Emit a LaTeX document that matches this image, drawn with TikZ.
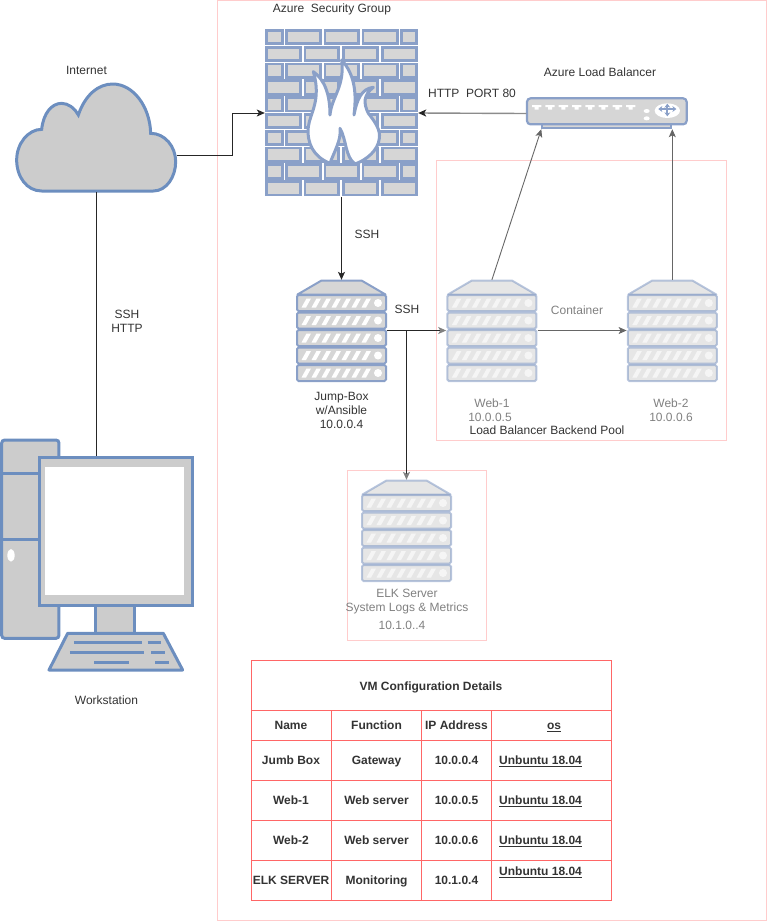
\documentclass[tikz,border=0pt]{standalone}
\usepackage{fontspec}
\setmainfont{Liberation Sans}
\usepackage{tikz}
\usetikzlibrary{positioning, arrows.meta}
\definecolor{pinkline}{HTML}{FFCCCC}
\definecolor{tableline}{HTML}{FF6666}
\definecolor{deepblue}{HTML}{6C8EBF}
\definecolor{softblue}{HTML}{8AA0C8}
\definecolor{bodygray}{HTML}{CCCCCC}
\definecolor{softgray}{HTML}{D6D6D6}
\definecolor{inktext}{HTML}{333333}

\begin{document}
\begin{tikzpicture}
        [
            x=1pt, y=-1pt,
            every node/.style={inner sep=0pt, font=\fontsize{12}{14}\selectfont, text=inktext},
            >={Stealth[length=8pt, width=7pt, inset=2pt]},
            faded/.style={text=gray},
            cell/.style={font=\fontsize{12}{14}\selectfont\bfseries, text height=9pt, text depth=0pt},
            group/.style={draw=pinkline, line width=1pt},
            link/.style={draw=black!85, line width=0.9pt},
            pale/.style={draw=black!60, line width=0.9pt},
            servernode/.style={minimum width=91pt, minimum height=101pt},
            rack/.pic={
                \draw [draw=softblue, fill=softgray, line width=2pt, line join=round]
                    (-44,-36) -- (-20,-50) -- (20,-50) -- (44,-36) -- cycle;
                \foreach \n in {0,...,4} {
                    \draw [draw=softblue, fill=softgray, line width=2pt, rounded corners=1.5pt]
                        (-44.5,-35.5+17.5*\n) rectangle (44.5,-19.5+17.5*\n);
                    \foreach \s in {0,...,6}
                        \fill [white] (-40+10*\s,-23+17.5*\n) -- (-35.5+10*\s,-23+17.5*\n)
                            -- (-30.5+10*\s,-32+17.5*\n) -- (-35+10*\s,-32+17.5*\n) -- cycle;
                    \fill [white] (36.5,-27.5+17.5*\n) circle [radius=4];
                }
            }
        ]
        \useasboundingbox (0,0) rectangle (767,922);

        \draw [group] (217,0.5) rectangle (766.5,920.5);
        \draw [group] (436,160.5) rectangle (726.5,440.5);
        \draw [group] (347,470.5) rectangle (486.5,640.5);

        % cloud
        \node (cloud) [minimum width=160pt, minimum height=108pt] at (96.5,138) {};
        \begin{scope}[shift={(0,60)}, scale=1/3]
            \draw [draw=deepblue, fill=bodygray, line width=3pt]
                (125,393) .. controls (80,393) and (50,350) .. (50,300)
                .. controls (50,250) and (85,208) .. (125,208)
                .. controls (130,160) and (155,130) .. (185,130)
                .. controls (205,130) and (225,145) .. (235,165)
                .. controls (255,105) and (295,72) .. (338,72)
                .. controls (400,72) and (450,140) .. (452,220)
                .. controls (495,220) and (527,260) .. (527,305)
                .. controls (527,350) and (500,393) .. (460,393) -- cycle;
        \end{scope}
        \node (internet) [above=9pt of cloud, xshift=-10pt] {Internet};

        % workstation
        \begin{scope}[shift={(0,430)}, scale=1/3]
            \draw [draw=deepblue, fill=bodygray, line width=3pt, rounded corners=3pt]
                (5,30) rectangle (177,625);
            \draw [deepblue, line width=3pt] (5,130) -- (118,130);
            \draw [deepblue, line width=3pt] (5,327) -- (118,327);
            \fill [white] (33,376) ellipse [x radius=11, y radius=19];
        \end{scope}
        \node (screen) [draw=deepblue, fill=bodygray, line width=3pt,
                        minimum width=153pt, minimum height=148pt] at (116.2,531) {};
        \begin{scope}[shift={(0,430)}, scale=1/3]
            \fill [white] (135,110) rectangle (552,495);
            \draw [draw=deepblue, fill=bodygray, line width=3pt] (288,525) rectangle (405,610);
            \draw [draw=deepblue, fill=bodygray, line width=3pt, line join=round]
                (203,610) -- (490,610) -- (548,720) -- (147,720) -- cycle;
            \foreach \a/\b/\h in {222/425/637, 443/483/637, 210/432/666, 454/495/666, 283/387/696, 466/507/696}
                \draw [deepblue, line width=3pt] (\a,\h) -- (\b,\h);
        \end{scope}
        \node (workstation) at (106.5,700) {Workstation};

        % firewall
        \node (wall) [minimum width=153pt, minimum height=168pt] at (341.5,113) {};
        \foreach \r in {0,2,...,8}
            \foreach \a/\b in {265/283.5, 285/322, 323.5/360, 361.5/399, 400/418}
                \draw [draw=softblue, fill=softgray, line width=2.8pt]
                    (\a+1.4,29+16.8*\r+1.4) rectangle (\b-1.4,29+16.8*\r+14.7);
        \foreach \r in {1,3,...,9}
            \foreach \a/\b in {265/302, 303.5/340, 342/379, 381/418}
                \draw [draw=softblue, fill=softgray, line width=2.8pt]
                    (\a+1.4,29+16.8*\r+1.4) rectangle (\b-1.4,29+16.8*\r+14.7);
        \begin{scope}[shift={(250,0)}, scale=1/3]
            \draw [draw=softblue, fill=white, line width=3pt, line join=round]
                (240,490) .. controls (190,470) and (170,430) .. (175,380)
                .. controls (180,340) and (215,300) .. (190,215)
                .. controls (225,240) and (240,285) .. (240,345)
                .. controls (245,290) and (285,260) .. (275,180)
                .. controls (315,225) and (320,280) .. (312,345)
                .. controls (320,300) and (335,265) .. (370,262)
                .. controls (340,285) and (340,310) .. (355,340)
                .. controls (375,365) and (392,390) .. (388,415)
                .. controls (385,450) and (350,480) .. (315,492)
                .. controls (285,470) and (290,420) .. (270,385)
                .. controls (275,420) and (250,460) .. (240,490) -- cycle;
        \end{scope}
        \node (secgroup) at (332,9) {Azure\ \ Security Group};

        % load balancer
        \node (lb) [minimum width=161pt, minimum height=31pt] at (607,113.5) {};
        \begin{scope}[shift={(515,85)}, scale=1/3]
            \draw [draw=softblue, fill=softgray, line width=2pt] (82,118) rectangle (468,128);
            \draw [draw=softblue, fill=softgray, line width=2.2pt, rounded corners=3.5pt]
                (36,40) rectangle (515,118);
            \foreach \p in {65,105,145,185,225,265,307,347}
                \fill [white] (\p-14,60) -- (\p+14,60) -- (\p+14,66) -- (\p+6,66) -- (\p+6,74) -- (\p-6,74) -- (\p-6,66) -- (\p-14,66) -- cycle;
            \fill [white] (395,78) ellipse [x radius=9, y radius=6];
            \fill [white] (395,100) ellipse [x radius=9, y radius=6];
            \fill [white] (457,77) ellipse [x radius=38, y radius=22];
            \draw [softblue, line width=2pt, <->, >={Stealth[length=4pt, width=6pt]}] (430,72) -- (484,72);
            \draw [softblue, line width=2pt, <->, >={Stealth[length=4pt, width=6pt]}] (457,56) -- (457,94);
        \end{scope}
        \node (lbname) [above=21pt of lb, xshift=-7pt] {Azure Load Balancer};

        % servers
        \node (jump) [servernode] at (341.5,330.5) {};
        \node (web1) [servernode, right=59pt of jump] {};
        \node (web2) [servernode, right=89pt of web1] {};
        \node (elk) [servernode] at (406.5,530.5) {};
        \pic at (jump) {rack};
        \foreach \i in {web1,web2,elk}
            \pic [opacity=0.6] at (\i) {rack};

        \node (jumptext) [below=10.5pt of jump, align=center] {Jump-Box\\w/Ansible\\10.0.0.4};
        \node (webonename) [faded] at (492,403) {Web-1};
        \node (webonetext) [faded] at (490,417) {10.0.0.5};
        \node (webtwoname) [faded] at (671,403) {Web-2};
        \node (webtwotext) [faded] at (671,417) {10.0.0.6};
        \node (pool) at (547,430) {Load Balancer Backend Pool};
        \node (elkname) [faded] at (407,593) {ELK Server};
        \node (elkrole) [faded] at (407,608) {System Logs \& Metrics};
        \node (elkip) [faded] at (402,625) {10.1.0..4};

        % connectors
        \draw [->, link] ([yshift=-17pt]cloud.east) -- ++(56,0) |- (wall.west);
        \draw [link] (cloud.south) -- (cloud.south |- screen.north);
        \draw [draw=gray!90, line width=1.4pt, -{Stealth[length=8pt, width=7pt, inset=2pt, black!85]}] (lb.west) -- (wall.east);
        \draw [->, link] (wall.south) -- (jump.north);
        \draw [link, -{Stealth[length=8pt, width=7pt, inset=2pt, gray]}] (jump.east) -- (web1.west);
        \draw [link, -{Stealth[length=8pt, width=7pt, inset=2pt, gray]}] (jump.east -| elk.north) -- (elk.north);
        \draw [->, pale] (web1.east) -- (web2.west);
        \draw [->, pale] (web1.north) -- ([xshift=15pt]lb.south west);
        \draw [->, pale] (web2.north) -- (web2.north |- lb.south);

        \node (httplabel) at (472,93) {HTTP\ \ PORT 80};
        \node (sshjump) at (367,234) {SSH};
        \node (sshweb) at (407,309) {SSH};
        \node (container) [faded] at (577,310) {Container};
        \node (sshhttp) [align=center] at (127,321) {SSH\\HTTP};

        % table
        \draw [tableline, line width=1pt] (251,660.5) rectangle (611.5,900.5);
        \foreach \h in {710.5,740.5,780.5,820.5,860.5}
            \draw [tableline, line width=1pt] (251,\h) -- (611.5,\h);
        \foreach \c in {331.5,421.5,491.5}
            \draw [tableline, line width=1pt] (\c,710.5) -- (\c,900.5);
        \node (vmtitle) [cell] at (431,685.5) {VM Configuration Details};
        \foreach \k/\h/\a/\b/\c in {head/725/Name/Function/IP Address,
                                    jumb/760/Jumb Box/Gateway/10.0.0.4,
                                    webone/800/Web-1/Web server/10.0.0.5,
                                    webtwo/840/Web-2/Web server/10.0.0.6,
                                    elks/880/ELK SERVER/Monitoring/10.1.0.4} {
            \node (\k name) [cell] at (291,\h) {\a};
            \node (\k func) [cell] at (376.5,\h) {\b};
            \node (\k addr) [cell] at (456.5,\h) {\c};
        }
        \node (oshead) [cell] at (554,725) {\underline{os}};
        \foreach \k/\h in {a/760,b/800,c/840,d/871}
            \node (os\k) [cell, anchor=west] at (499,\h) {\underline{Unbuntu 18.04}};
    \end{tikzpicture}
\end{document}
